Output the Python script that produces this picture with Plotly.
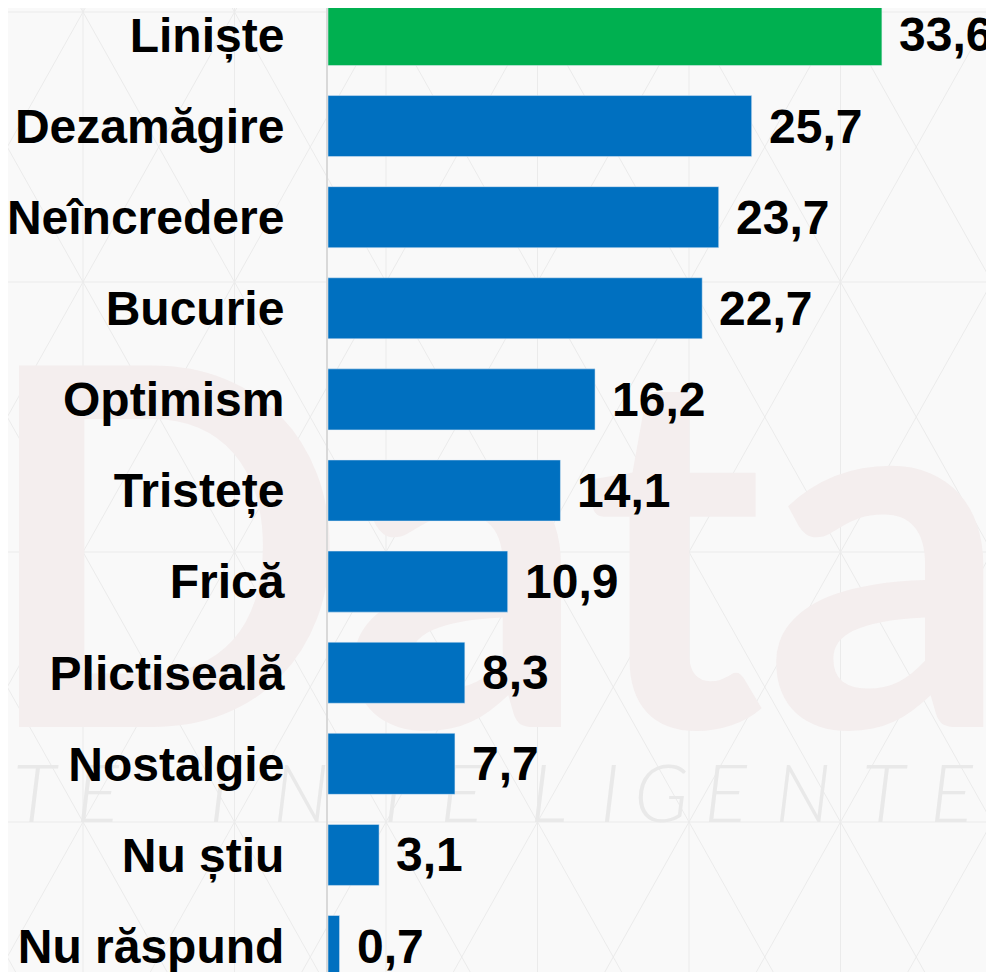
import base64
import plotly.graph_objects as go

categories = ["Liniște", "Dezamăgire", "Neîncredere", "Bucurie", "Optimism",
              "Tristețe", "Frică", "Plictiseală", "Nostalgie", "Nu știu", "Nu răspund"]
values = [33.6, 25.7, 23.7, 22.7, 16.2, 14.1, 10.9, 8.3, 7.7, 3.1, 0.7]
labels = ["33,6", "25,7", "23,7", "22,7", "16,2", "14,1", "10,9", "8,3", "7,7", "3,1", "0,7"]

GREEN = "#00B050"
BLUE = "#0070C0"
colors = [GREEN] + [BLUE] * (len(values) - 1)
FONT = "Liberation Sans, Arial, sans-serif"

W, H = 986, 964       # the page adds an 8px body margin
LEFT = 320


def background_svg():
    '''faint triangle lattice + "Data" watermark, drawn behind the bars'''
    parts = ['<svg xmlns="http://www.w3.org/2000/svg" width="%d" height="%d" '
             'viewBox="8 8 %d %d">' % (W, H, W, H)]
    parts.append('<rect x="0" y="0" width="1000" height="1000" fill="#f9f9f9"/>')
    dx, dy, x0, y0 = 151.5, 270.0, 83.0, 12.0
    s = 'stroke="#ebebeb" stroke-width="1"'
    k = -1
    while x0 + k * dx < 1000:
        x = x0 + k * dx
        parts.append('<line x1="%.1f" y1="0" x2="%.1f" y2="1000" %s/>' % (x, x, s))
        k += 1
    for j in range(0, 5):
        y = y0 + j * dy
        parts.append('<line x1="0" y1="%.1f" x2="1000" y2="%.1f" %s/>' % (y, y, s))
    for i in range(-8, 10):
        xa = x0 + i * dx
        # one line of each diagonal family through (xa, y0)
        parts.append('<line x1="%.1f" y1="%.1f" x2="%.1f" y2="%.1f" %s/>'
                     % (xa - 6 * dx, y0 - 6 * dy, xa + 6 * dx, y0 + 6 * dy, s))
        parts.append('<line x1="%.1f" y1="%.1f" x2="%.1f" y2="%.1f" %s/>'
                     % (xa + 6 * dx, y0 - 6 * dy, xa - 6 * dx, y0 + 6 * dy, s))
    parts.append('<text x="-20" y="727" font-family="Lato, Noto Sans, sans-serif" '
                 'font-size="500" font-weight="700" fill="#f4eeee" '
                 'textLength="1030" lengthAdjust="spacingAndGlyphs">Data</text>')
    letters = "TEINTELIGENTE"
    xs = [13, 76, 209, 273, 372, 440, 530, 600, 634, 704, 775, 862, 930]
    parts.append('<text x="%s" y="822" font-family="Lato, Noto Sans, sans-serif" '
                 'font-size="80" font-style="italic" font-weight="300" '
                 'fill="#e9e9e9">%s</text>' % (" ".join(str(v) for v in xs), letters))
    parts.append('</svg>')
    svg = "".join(parts)
    return "data:image/svg+xml;base64," + base64.b64encode(svg.encode("utf-8")).decode()


fig = go.Figure()
fig.add_trace(go.Bar(
    x=values,
    y=list(range(len(categories))),
    orientation="h",
    marker=dict(color=colors),
    width=0.67,
    hoverinfo="skip",
))

# value labels to the right of each bar
for i, (v, t) in enumerate(zip(values, labels)):
    fig.add_annotation(
        x=v, y=i, text="<b>%s</b>" % t, showarrow=False,
        xanchor="left", yanchor="middle", xshift=15, yshift=0,
        font=dict(family=FONT, size=48, color="#000000"),
    )

plot_w = W - LEFT
fig.add_layout_image(
    source=background_svg(), xref="paper", yref="paper",
    x=-LEFT / plot_w, y=1, sizex=W / plot_w, sizey=1,
    xanchor="left", yanchor="top", sizing="stretch", layer="below",
)

fig.update_layout(
    width=W, height=H,
    margin=dict(l=LEFT, r=0, t=0, b=0),
    paper_bgcolor="#f9f9f9",
    plot_bgcolor="rgba(0,0,0,0)",
    showlegend=False,
    font=dict(family=FONT, size=48, color="#000000"),
)
fig.update_xaxes(range=[0, 40.4], showgrid=False, zeroline=False,
                 showticklabels=False, showline=False)
fig.update_yaxes(
    range=[10.285, -0.296],
    tickmode="array",
    tickvals=list(range(len(categories))),
    ticktext=["<b>%s</b>" % c for c in categories],
    ticklabelstandoff=32,
    ticklabeloverflow="allow",
    showgrid=False, zeroline=False,
    showline=True, linecolor="#d9d9d9", linewidth=2,
    ticks="",
)

fig.write_html("out.html")
